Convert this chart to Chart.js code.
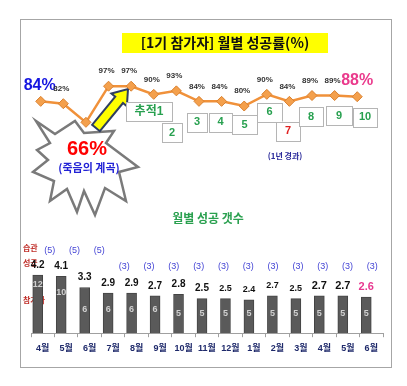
<!DOCTYPE html>
<html>
<head>
<meta charset="utf-8">
<script src="https://cdn.jsdelivr.net/npm/chart.js@4/dist/chart.umd.min.js"></script>
<style>
  html, body { margin: 0; padding: 0; background: #fff; }
  #wrap { width: 407px; height: 386px; }
</style>
</head>
<body>
<div id="wrap"><canvas id="chart" width="407" height="386"></canvas></div>
<script>
// 데이터
const months = ['4월', '5월', '6월', '7월', '8월', '9월', '10월', '11월', '12월', '1월', '2월', '3월', '4월', '5월', '6월'];
const successRate = [84, 82, 66, 97, 97, 90, 93, 84, 84, 80, 90, 84, 89, 89, 88];
const avgSuccess = [4.2, 4.1, 3.3, 2.9, 2.9, 2.7, 2.8, 2.5, 2.5, 2.4, 2.7, 2.5, 2.7, 2.7, 2.6];
const participants = [12, 10, 6, 6, 6, 6, 5, 5, 5, 5, 5, 5, 5, 5, 5];
const habits = [5, 5, 5, 3, 3, 3, 3, 3, 3, 3, 3, 3, 3, 3];
const trackLabels = ['추적1', '2', '3', '4', '5', '6', '7', '8', '9', '10'];

const KR = '"Noto Sans CJK KR", sans-serif';
const MIX = '"Liberation Sans", "Noto Sans CJK KR", sans-serif';

// 추적 박스 위치 [cx, cy, w]
const trackBoxes = [
    [149, 111.5, 46], [172, 132.5, 20], [197, 122, 20], [220.5, 122, 23], [244.5, 124.5, 25],
    [269.5, 112, 25], [288, 131, 24], [311, 116.5, 24], [339, 115.5, 26], [365, 117, 24]
];

// 폭발 모양 꼭짓점
const starPts = [
    [36, 121], [55, 134], [75, 121], [84, 133], [114, 131], [106, 143], [138, 167], [119, 172],
    [126, 201], [105, 188], [95, 215], [84, 191], [77, 212], [67, 189], [50, 201], [54, 181],
    [33, 172], [48, 160], [37, 150], [50, 143]
];

function text(ctx, str, x, y, font, color, align) {
    ctx.font = font;
    ctx.fillStyle = color;
    ctx.textAlign = align || 'center';
    ctx.textBaseline = 'middle';
    ctx.fillText(str, x, y);
}

const decorPlugin = {
    id: 'decor',
    beforeDatasetsDraw(chart) {
        const ctx = chart.ctx;
        ctx.save();
        // 테두리
        ctx.strokeStyle = '#a6a6a6';
        ctx.lineWidth = 1;
        ctx.strokeRect(20.5, 19.5, 371, 348);

        // 제목
        ctx.fillStyle = '#ffff00';
        ctx.fillRect(122, 33, 206, 20);
        text(ctx, '[1기 참가자] 월별 성공률(%)', 225, 43, 'bold 14px ' + KR, '#111');

        // 폭발
        ctx.beginPath();
        starPts.forEach((p, i) => i ? ctx.lineTo(p[0], p[1]) : ctx.moveTo(p[0], p[1]));
        ctx.closePath();
        ctx.fillStyle = '#fff';
        ctx.fill();
        ctx.strokeStyle = '#7a7a7a';
        ctx.lineWidth = 2.5;
        ctx.lineJoin = 'miter';
        ctx.stroke();
        text(ctx, '66%', 87, 149, 'bold 20px ' + MIX, '#ff0000');
        text(ctx, '(죽음의 계곡)', 89, 168, 'bold 11px ' + KR, '#2323d6');

        // 노란 화살표
        const x0 = 96, y0 = 128, x1 = 128, y1 = 89;
        const ang = Math.atan2(y1 - y0, x1 - x0);
        const len = Math.hypot(x1 - x0, y1 - y0);
        ctx.translate(x0, y0);
        ctx.rotate(ang);
        ctx.beginPath();
        ctx.moveTo(0, -5);
        ctx.lineTo(len - 14, -5);
        ctx.lineTo(len - 14, -10);
        ctx.lineTo(len, 0);
        ctx.lineTo(len - 14, 10);
        ctx.lineTo(len - 14, 5);
        ctx.lineTo(0, 5);
        ctx.closePath();
        ctx.fillStyle = '#ffff00';
        ctx.fill();
        ctx.strokeStyle = '#2f3f60';
        ctx.lineWidth = 2;
        ctx.stroke();
        ctx.restore();

        ctx.save();
        text(ctx, '(1년 경과)', 285, 156, 'bold 8px ' + KR, '#2b2b9b');
        text(ctx, '월별 성공 갯수', 208, 218, 'bold 12px ' + KR, '#2aa04f');
        // 왼쪽 범례
        text(ctx, '습관', 23, 248, 'bold 8px ' + KR, '#c0302b', 'left');
        text(ctx, '성공', 23, 263, 'bold 8px ' + KR, '#c0302b', 'left');
        text(ctx, '참가자', 23, 300, 'bold 8px ' + KR, '#c0302b', 'left');
        ctx.restore();
    },
    afterDatasetsDraw(chart) {
        const ctx = chart.ctx;
        const y = chart.scales.y;
        const x3 = chart.scales.x3;
        ctx.save();

        // 막대 라벨
        const bars = chart.getDatasetMeta(0).data;
        bars.forEach((bar, i) => {
            const last = i === bars.length - 1;
            const size = i >= 12 ? 11 : (i >= 8 && i <= 11 ? 9 : 10);
            text(ctx, avgSuccess[i].toFixed(1), bar.x, bar.y - 10, 'bold ' + size + 'px ' + MIX,
                last ? '#e8378f' : '#111');
            text(ctx, String(participants[i]), bar.x, y.getPixelForValue(participants[i] * 0.29),
                'bold 9px ' + MIX, '#d0d0d0');
        });

        // 습관 수
        habits.forEach((h, i) => {
            text(ctx, '(' + h + ')', x3.getPixelForValue(i), y.getPixelForValue(h * 0.6 + 3),
                '9px ' + MIX, '#4545d5');
        });

        // 성공률 라벨
        const pts = chart.getDatasetMeta(1).data;
        pts.forEach((p, i) => {
            const label = successRate[i] + '%';
            if (i === 0) {
                text(ctx, label, p.x - 1, p.y - 16, 'bold 16px ' + MIX, '#1515e0');
            } else if (i === pts.length - 1) {
                text(ctx, label, p.x, p.y - 16, 'bold 16px ' + MIX, '#ea3a8c');
            } else if (successRate[i] !== Math.min(...successRate)) {
                text(ctx, label, p.x - 2, p.y - 15, 'bold 8px ' + MIX, '#333');
            }
        });

        // 추적 박스
        trackBoxes.forEach((b, i) => {
            const h = 19;
            ctx.fillStyle = '#fff';
            ctx.fillRect(b[0] - b[2] / 2, b[1] - h / 2, b[2], h);
            ctx.strokeStyle = '#b5b5b5';
            ctx.lineWidth = 1;
            ctx.strokeRect(Math.round(b[0] - b[2] / 2) + 0.5, Math.round(b[1] - h / 2) + 0.5, b[2], h);
            text(ctx, trackLabels[i], b[0], b[1], (i === 0 ? 'bold 12px ' : 'bold 11px ') + MIX,
                trackLabels[i] === '7' ? '#e02020' : '#27a04f');
        });
        ctx.restore();
    }
};

new Chart(document.getElementById('chart'), {
    type: 'bar',
    data: {
        labels: months,
        datasets: [
            {
                label: '성공',
                data: avgSuccess,
                xAxisID: 'x',
                yAxisID: 'y',
                backgroundColor: '#5a5a5a',
                borderColor: '#444',
                borderWidth: 1,
                barThickness: 10,
                order: 2
            },
            {
                type: 'line',
                label: '성공률',
                data: successRate.map((v, i) => ({ x: i, y: v })),
                xAxisID: 'x2',
                yAxisID: 'y2',
                borderColor: '#f0913a',
                borderWidth: 2.5,
                pointStyle: 'rectRot',
                pointRadius: 5,
                pointBackgroundColor: '#f4a04c',
                pointBorderColor: '#d9802e',
                pointBorderWidth: 1,
                tension: 0,
                order: 1
            }
        ]
    },
    options: {
        responsive: false,
        animation: false,
        devicePixelRatio: 1,
        layout: { padding: { left: 31, right: 24, top: 20, bottom: 26 } },
        plugins: { legend: { display: false }, tooltip: { enabled: false } },
        scales: {
            x: {
                type: 'category',
                offset: true,
                grid: { offset: true, drawOnChartArea: false, tickLength: 4, color: '#a0a0a0' },
                border: { color: '#a0a0a0' },
                ticks: {
                    padding: 6, maxRotation: 0, minRotation: 0, autoSkip: false,
                    color: '#1f2a6b', font: { family: MIX, size: 9, weight: 'bold' }
                }
            },
            y: { display: false, min: 0, max: 22.6 },
            x2: { type: 'linear', display: false, offset: false, min: -0.43, max: 15.14 },
            y2: { type: 'linear', display: false, min: -114.9, max: 153.8 },
            x3: { type: 'linear', display: false, offset: false, min: -0.755, max: 13.43 }
        }
    },
    plugins: [decorPlugin]
});
</script>
</body>
</html>
